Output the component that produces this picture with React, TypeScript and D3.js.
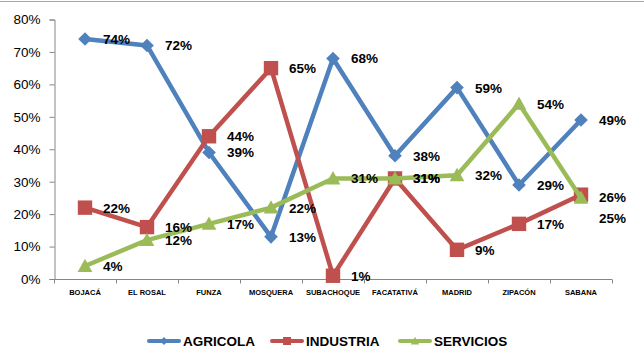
import React, { useRef, useEffect } from "react";
import * as d3 from "d3";

const categories = [
  "BOJACÁ",
  "EL ROSAL",
  "FUNZA",
  "MOSQUERA",
  "SUBACHOQUE",
  "FACATATIVÁ",
  "MADRID",
  "ZIPACÓN",
  "SABANA",
];
const agricola = [0.74, 0.72, 0.39, 0.13, 0.68, 0.38, 0.59, 0.29, 0.49];
const industria = [0.22, 0.16, 0.44, 0.65, 0.01, 0.31, 0.09, 0.17, 0.26];
const servicios = [0.04, 0.12, 0.17, 0.22, 0.31, 0.31, 0.32, 0.54, 0.25];
const yTicks = [0, 0.1, 0.2, 0.3, 0.4, 0.5, 0.6, 0.7, 0.8];

const series = [
  { name: "AGRICOLA", values: agricola, color: "#4F81BD", marker: "diamond" },
  { name: "INDUSTRIA", values: industria, color: "#C0504D", marker: "square" },
  { name: "SERVICIOS", values: servicios, color: "#9BBB59", marker: "triangle" },
];

const W = 644;
const H = 362;
const FONT = "'Liberation Sans', Arial, sans-serif";

const App = () => {
  const ref = useRef<SVGSVGElement | null>(null);

  useEffect(() => {
    document.body.style.margin = "0";
    if (!ref.current) return;
    const svg = d3.select(ref.current);
    svg.selectAll("*").remove();

    const x = d3.scaleBand().domain(categories).range([54, 612]);
    const y = d3.scaleLinear().domain([0, 0.8]).range([279, 19.5]);
    const cx = (c: string) => (x(c) || 0) + x.bandwidth() / 2;

    // chart border (top edge visible)
    svg
      .append("line")
      .attr("x1", 0)
      .attr("x2", W)
      .attr("y1", 1.5)
      .attr("y2", 1.5)
      .attr("stroke", "#A6A6A6")
      .attr("stroke-width", 1);

    // Y axis
    const yAxis = svg
      .append("g")
      .attr("transform", "translate(54.5,0)")
      .call(
        d3
          .axisLeft(y)
          .tickValues(yTicks)
          .tickSize(5)
          .tickPadding(9)
          .tickFormat((d) => d3.format(".0%")(d as number))
      );
    yAxis.select(".domain").attr("stroke", "#868686");
    yAxis.selectAll(".tick line").attr("stroke", "#868686");
    yAxis
      .selectAll("text")
      .style("font-family", FONT)
      .style("font-size", "13.5px")
      .style("fill", "#000");

    // X axis
    const xAxisG = svg.append("g").attr("transform", "translate(0,279.5)");
    xAxisG
      .append("line")
      .attr("x1", 54)
      .attr("x2", 612)
      .attr("stroke", "#868686");
    const bounds = categories.map((c) => x(c) || 0).concat([612]);
    xAxisG
      .selectAll(".xt")
      .data(bounds)
      .enter()
      .append("line")
      .attr("x1", (d) => Math.round(d) + 0.5)
      .attr("x2", (d) => Math.round(d) + 0.5)
      .attr("y1", 0)
      .attr("y2", 4)
      .attr("stroke", "#868686");
    xAxisG
      .selectAll(".xl")
      .data(categories)
      .enter()
      .append("text")
      .attr("x", (d) => cx(d))
      .attr("y", 15)
      .attr("text-anchor", "middle")
      .style("font-family", FONT)
      .style("font-size", "7.5px")
      .style("font-weight", "bold")
      .style("fill", "#000")
      .text((d) => d);

    const drawMarker = (
      g: d3.Selection<SVGGElement, unknown, null, undefined>,
      type: string,
      px: number,
      py: number,
      color: string,
      s: number
    ) => {
      if (type === "diamond") {
        g.append("path")
          .attr("d", `M${px},${py - s}L${px + s},${py}L${px},${py + s}L${px - s},${py}Z`)
          .attr("fill", color);
      } else if (type === "square") {
        g.append("rect")
          .attr("x", px - s)
          .attr("y", py - s)
          .attr("width", 2 * s)
          .attr("height", 2 * s)
          .attr("fill", color);
      } else {
        g.append("path")
          .attr(
            "d",
            `M${px},${py - s * 1.05}L${px + s * 1.05},${py + s * 0.85}L${px - s * 1.05},${py + s * 0.85}Z`
          )
          .attr("fill", color);
      }
    };

    const line = d3
      .line<number>()
      .x((_, i) => cx(categories[i]))
      .y((d) => y(d));

    series.forEach((s) => {
      const g = svg.append("g");
      g.append("path")
        .attr("d", line(s.values))
        .attr("fill", "none")
        .attr("stroke", s.color)
        .attr("stroke-width", 4.5)
        .attr("stroke-linejoin", "round")
        .attr("stroke-linecap", "round");
      s.values.forEach((v, i) => {
        const size = s.marker === "diamond" ? 6.8 : s.marker === "square" ? 7.2 : 7;
        drawMarker(g, s.marker, cx(categories[i]), y(v), s.color, size);
      });
    });

    // data labels (the last two SABANA labels are nudged apart, as in Excel)
    const labels = svg.append("g");
    series.forEach((s, si) => {
      s.values.forEach((v, i) => {
        let dy = 0;
        if (i === categories.length - 1 && si === 2) dy = 20;
        if (i === categories.length - 1 && si === 1) dy = 2;
        labels
          .append("text")
          .attr("x", cx(categories[i]) + 18)
          .attr("y", y(v) + 5 + dy)
          .style("font-family", FONT)
          .style("font-size", "13.5px")
          .style("font-weight", "bold")
          .style("fill", "#000")
          .text(d3.format(".0%")(v));
      });
    });

    // legend
    const legend = svg.append("g").attr("transform", "translate(0,341)");
    const legendX = [147, 270, 398];
    series.forEach((s, i) => {
      const lx = legendX[i];
      const g = legend.append("g");
      g.append("line")
        .attr("x1", lx + 2)
        .attr("x2", lx + 32)
        .attr("y1", 0)
        .attr("y2", 0)
        .attr("stroke", s.color)
        .attr("stroke-width", 4)
        .attr("stroke-linecap", "round");
      drawMarker(g, s.marker, lx + 17, 0, s.color, 4);
      g.append("text")
        .attr("x", lx + 36)
        .attr("y", 5)
        .style("font-family", FONT)
        .style("font-size", "13.5px")
        .style("font-weight", "bold")
        .style("fill", "#000")
        .text(s.name);
    });
  }, []);

  return <svg ref={ref} width={W} height={H} style={{ display: "block", background: "#fff" }} />;
};

export default App;
